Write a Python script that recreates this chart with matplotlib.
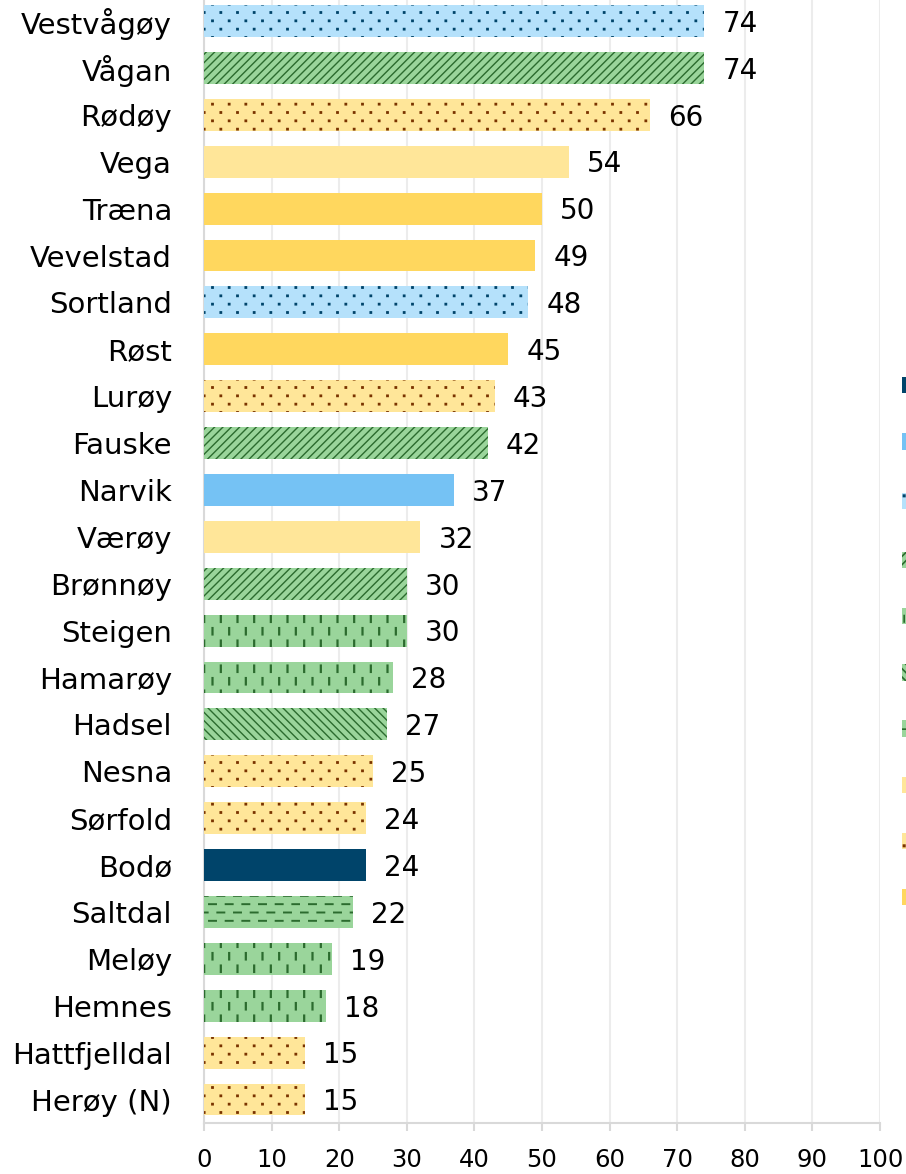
import warnings
import numpy as np
import matplotlib
matplotlib.use("Agg")
import matplotlib.pyplot as plt
import matplotlib.hatch as mhatch
from matplotlib.path import Path
from matplotlib.patches import Patch

warnings.filterwarnings("ignore")

kommuner = ["Vestvågøy", "Vågan", "Rødøy", "Vega", "Træna", "Vevelstad", "Sortland",
            "Røst", "Lurøy", "Fauske", "Narvik", "Værøy", "Brønnøy", "Steigen",
            "Hamarøy", "Hadsel", "Nesna", "Sørfold", "Bodø", "Saltdal", "Meløy",
            "Hemnes", "Hattfjelldal", "Herøy (N)"]
verdier = [74, 74, 66, 54, 50, 49, 48, 45, 43, 42, 37, 32, 30, 30, 28, 27, 25, 24, 24,
           22, 19, 18, 15, 15]
grupper = ["lb_dot", "g_fwd", "ly_dot", "ly", "y", "y", "lb_dot", "y", "ly_dot", "g_fwd",
           "blue", "ly", "g_fwd", "g_vdash", "g_vdash", "g_back", "ly_dot", "ly_dot",
           "navy", "g_hdash", "g_vdash", "g_vdash", "ly_dot", "ly_dot"]

legend_order = ["navy", "blue", "lb_dot", "g_fwd", "g_vdash", "g_back", "g_hdash",
                "ly", "ly_dot", "y"]


def stagger_hatch(char, cols, rows, dx, dy, square=False):
    # staggered grid of short marks; odd rows shifted half a column
    class _Hatch(mhatch.HatchPatternBase):
        def __init__(self, hatch, density):
            n = hatch.count(char)
            per = 5 if square else 2
            self.num_vertices = cols * rows * per if n else 0

        def set_vertices_and_codes(self, vertices, codes):
            k = 0
            for r in range(rows):
                y = (r + 0.5) / rows
                for c in range(cols):
                    x = (c + 0.25 + 0.5 * (r % 2)) / cols
                    if square:
                        vertices[k:k + 5] = [(x - dx, y - dy), (x + dx, y - dy),
                                             (x + dx, y + dy), (x - dx, y + dy),
                                             (x - dx, y - dy)]
                        codes[k:k + 5] = [Path.MOVETO, Path.LINETO, Path.LINETO,
                                          Path.LINETO, Path.CLOSEPOLY]
                        k += 5
                    else:
                        vertices[k] = (x - dx, y - dy)
                        vertices[k + 1] = (x + dx, y + dy)
                        codes[k], codes[k + 1] = Path.MOVETO, Path.LINETO
                        k += 2
    return _Hatch


mhatch._hatch_types.extend([
    stagger_hatch('i', 6, 8, 0.0, 0.032),        # short vertical dashes
    stagger_hatch('=', 6, 12, 0.035, 0.0),       # short horizontal dashes
    stagger_hatch('p', 6, 12, 0.007, 0.007, square=True),  # small square dots
])

stiler = {
    "navy":    dict(color="#00446a", hatch=None, hc="#00446a", lw=1.0),
    "blue":    dict(color="#75c2f4", hatch=None, hc="#75c2f4", lw=1.0),
    "lb_dot":  dict(color="#b5e1fb", hatch="p", hc="#00446a", lw=1.0),
    "g_fwd":   dict(color="#9ad59b", hatch="////", hc="#2b6b2e", lw=1.0),
    "g_vdash": dict(color="#9ad59b", hatch="i", hc="#2b6b2e", lw=1.6),
    "g_back":  dict(color="#9ad59b", hatch="\\\\\\\\", hc="#2b6b2e", lw=1.0),
    "g_hdash": dict(color="#9ad59b", hatch="=", hc="#2b6b2e", lw=1.4),
    "ly":      dict(color="#ffe699", hatch=None, hc="#ffe699", lw=1.0),
    "ly_dot":  dict(color="#ffe699", hatch="p", hc="#7a3300", lw=1.0),
    "y":       dict(color="#ffd75e", hatch=None, hc="#ffd75e", lw=1.0),
}

legend_labels = {
    "navy": "Bodø", "blue": "Narvik", "lb_dot": "Vestvågøy, Sortland",
    "g_fwd": "Vågan, Fauske, Brønnøy", "g_vdash": "Steigen, Hamarøy, Meløy, Hemnes",
    "g_back": "Hadsel", "g_hdash": "Saltdal", "ly": "Vega, Værøy",
    "ly_dot": "Rødøy, Lurøy, Nesna, Sørfold, Hattfjelldal, Herøy",
    "y": "Træna, Vevelstad, Røst",
}


def style_patch(p, s):
    p.set_edgecolor(s["hc"])
    p.set_linewidth(0)
    if s["hatch"]:
        p.set_hatch(s["hatch"])
        if hasattr(p, "set_hatch_linewidth"):
            p.set_hatch_linewidth(s["lw"])


plt.rcParams['font.family'] = ['DejaVu Sans']
plt.rcParams['hatch.linewidth'] = 1.2

fig = plt.figure(figsize=(9.06, 11.74), dpi=100)
ax = fig.add_axes([204 / 906, 51 / 1174, 676 / 906, 1125.4 / 1174])

y = np.arange(len(kommuner))
bars = ax.barh(y, verdier, height=0.68, zorder=3,
               color=[stiler[g]["color"] for g in grupper])
for b, g in zip(bars, grupper):
    style_patch(b, stiler[g])

for t in ax.bar_label(bars, padding=13, fontsize=20, color="black"):
    t.xyann = (13, -2)

ax.set_ylim(len(kommuner) - 0.5, -0.5)
ax.set_yticks(y)
ax.set_yticklabels(kommuner, fontsize=21)
ax.set_xlim(0, 100)
ax.set_xticks(range(0, 101, 10))
ax.tick_params(axis='x', labelsize=17.5, length=6, width=1.5, color="#d9d9d9", pad=12)
ax.tick_params(axis='y', length=0, pad=23)

ax.grid(axis='x', color="#ececec", linewidth=1.5, zorder=0)
for side in ["top", "right"]:
    ax.spines[side].set_visible(False)
for side in ["left", "bottom"]:
    ax.spines[side].set_color("#d9d9d9")
    ax.spines[side].set_linewidth(1.5)

handles = []
for g in legend_order:
    s = stiler[g]
    h = Patch(facecolor=s["color"], label=legend_labels[g])
    style_patch(h, s)
    handles.append(h)
fig.legend(handles=handles, loc="upper left", bbox_to_anchor=(882 / 906, 1 - 357 / 1174),
           borderaxespad=0, fontsize=16, borderpad=0.9, labelspacing=1.63,
           handlelength=1.0, handleheight=0.75, frameon=True, fancybox=False,
           facecolor="white", edgecolor="white", framealpha=1)

fig.savefig("out.png", dpi=100)
